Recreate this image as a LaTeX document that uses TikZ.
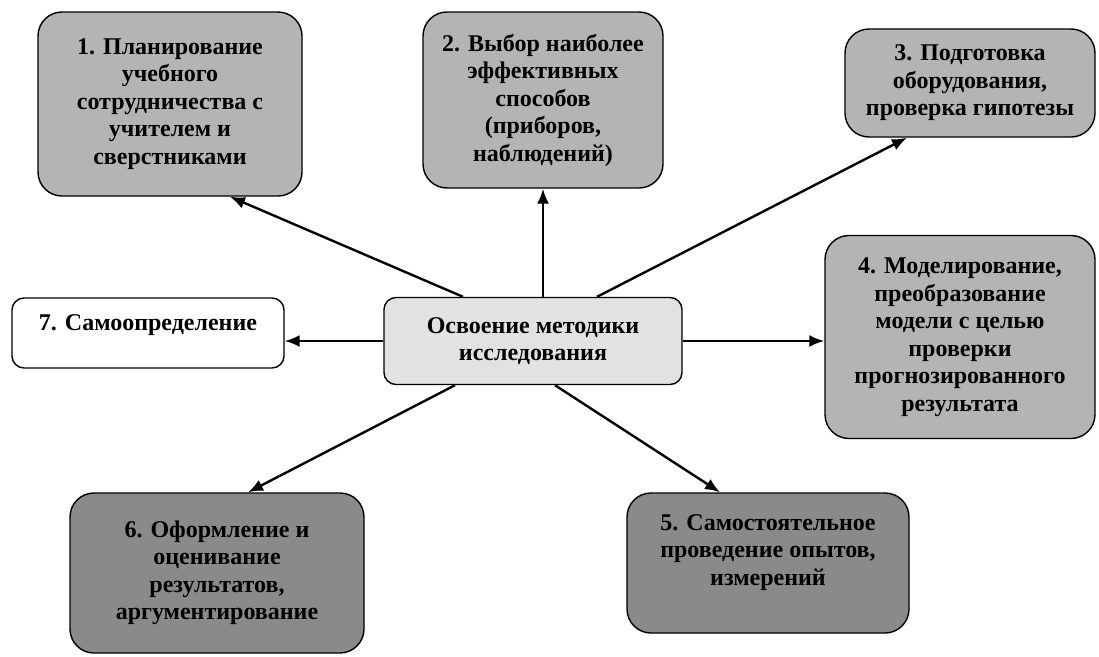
\documentclass[tikz,border=0pt]{standalone}
\usepackage{fontspec}
\setmainfont{Liberation Serif}
\usepackage{tikz}
\usetikzlibrary{arrows.meta,positioning,calc}
\definecolor{stepgray}{RGB}{180,180,180}
\definecolor{darkstep}{RGB}{138,138,138}
\definecolor{coregray}{RGB}{226,226,226}

\begin{document}
\begin{tikzpicture}[x=1pt,y=-1pt,
 box/.style={draw,line width=1.4pt,rounded corners=24pt,align=center,fill=stepgray,font=\fontsize{24}{27.5}\selectfont\bfseries,inner sep=0pt},
 dbox/.style={box,fill=darkstep},
 cbox/.style={box,rounded corners=12pt,fill=coregray},
 wbox/.style={box,rounded corners=12pt,fill=white},
 arr/.style={-{Latex[length=15pt,width=12pt]},line width=2.4pt}
]
\useasboundingbox (0,0) rectangle (1099,656);
\node[cbox,minimum width=298pt,minimum height=87pt] (core) at (533,341) {Освоение методики\\исследования};
\node[box,minimum width=264pt,minimum height=184pt] (plan) at (170,104) {1. Планирование\\учебного\\сотрудничества с\\учителем и\\сверстниками};
\node[box,minimum width=240pt,minimum height=176pt] (choice) at (543,100) {2. Выбор наиболее\\эффективных\\способов\\(приборов,\\наблюдений)};
\node[box,minimum width=250pt,minimum height=108pt] (equip) at (970,83) {3. Подготовка\\оборудования,\\проверка гипотезы};
\node[box,minimum width=270pt,minimum height=203pt] (model) at (960,337) {4. Моделирование,\\преобразование\\модели с целью\\проверки\\прогнозированного\\результата};
\node[dbox,minimum width=282pt,minimum height=140pt,text depth=26pt] (exper) at (768,563) {5. Самостоятельное\\проведение опытов,\\измерений};
\node[dbox,minimum width=294pt,minimum height=160pt] (report) at (217,573) {6. Оформление и\\оценивание\\результатов,\\аргументирование};
\node[wbox,minimum width=272pt,minimum height=70pt,text depth=20pt] (self) at (148,333) {7. Самоопределение};
\draw[arr] ([xshift=-70pt]core.north) -- ([xshift=60pt]plan.south);
\draw[arr] (choice.south |- core.north) -- (choice.south);
\draw[arr] ([xshift=64pt]core.north) -- ([xshift=-63pt]equip.south);
\draw[arr] (core.east) -- (core.east -| model.west);
\draw[arr] ([xshift=22pt]core.south) -- ([xshift=-48pt]exper.north);
\draw[arr] ([xshift=-78pt]core.south) -- ([xshift=31pt]report.north);
\draw[arr] (core.west) -- (core.west -| self.east);
\end{tikzpicture}
\end{document}
